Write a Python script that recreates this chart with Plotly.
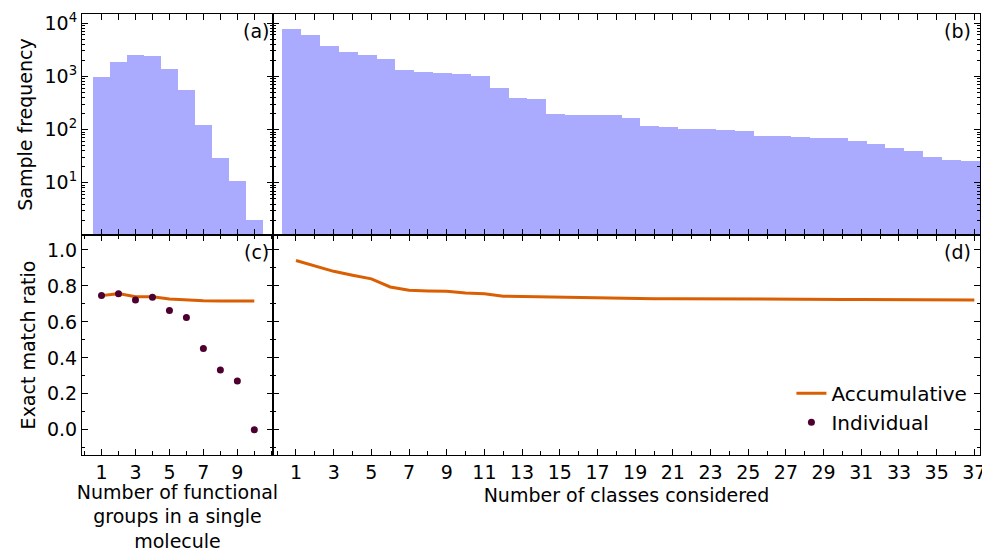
import plotly.graph_objects as go

fg_x = list(range(1, 11))
fg_freq = [950, 1840, 2500, 2450, 1400, 560, 120, 29, 11, 2]
fg_acc = [0.746, 0.757, 0.740, 0.740, 0.727, 0.720, 0.717, 0.716, 0.716, 0.716]
fg_ind = [0.746, 0.757, 0.722, 0.737, 0.663, 0.624, 0.452, 0.332, 0.272, 0.0]

cls_x = list(range(1, 38))
cls_freq = [7700, 5940, 3630, 2840, 2520, 2150, 1315, 1225, 1140, 1090, 1010, 595, 396, 368,
            195, 189, 184, 184, 166, 117, 110, 103, 103, 100, 96, 77, 75, 73, 69, 69, 60, 53,
            45, 39, 31, 27, 26]
cls_acc = [0.941, 0.911, 0.881, 0.859, 0.839, 0.794, 0.776, 0.772, 0.770, 0.761, 0.757, 0.743,
           0.741, 0.738, 0.735, 0.733, 0.731, 0.731, 0.730, 0.729, 0.729, 0.729, 0.728, 0.728,
           0.727, 0.727, 0.726, 0.726, 0.725, 0.725, 0.724, 0.724, 0.723, 0.723, 0.722, 0.722, 0.722]

BAR = "rgb(170,170,255)"
ORANGE = "#d95f02"
DOT = "#4d0030"
FONT = "DejaVu Sans"
TS = 19

log_minor = [m * 10 ** d for d in range(0, 4) for m in range(2, 10)]

fig = go.Figure()
fig.add_bar(x=fg_x, y=fg_freq, marker=dict(color=BAR, line=dict(width=0)), width=1,
            xaxis="x", yaxis="y", showlegend=False)
fig.add_bar(x=[v - 0.22 for v in cls_x], y=cls_freq, marker=dict(color=BAR, line=dict(width=0)),
            width=1, xaxis="x2", yaxis="y2", showlegend=False)
fig.add_scatter(x=fg_x, y=fg_acc, mode="lines", line=dict(color=ORANGE, width=3),
                xaxis="x3", yaxis="y3", showlegend=False)
fig.add_scatter(x=fg_x, y=fg_ind, mode="markers", marker=dict(color=DOT, size=7),
                xaxis="x3", yaxis="y3", showlegend=False)
fig.add_scatter(x=cls_x, y=cls_acc, mode="lines", line=dict(color=ORANGE, width=3),
                xaxis="x4", yaxis="y4", name="Accumulative")
fig.add_scatter(x=[None], y=[None], mode="markers", marker=dict(color=DOT, size=7),
                xaxis="x4", yaxis="y4", name="Individual")

split = 191 / 898
ysplit = 220 / 441
ax = dict(showline=True, linecolor="black", linewidth=1, mirror="ticks", ticks="inside",
          tickcolor="black", ticklen=6, zeroline=False, showgrid=False, automargin=False,
          tickfont=dict(size=TS, color="black"), ticklabeloverflow="allow")
logminor = dict(ticks="inside", ticklen=3, tickcolor="black", tickvals=log_minor)

fig.update_layout(
    width=982, height=552, margin=dict(l=82, r=2, t=14, b=97),
    plot_bgcolor="white", paper_bgcolor="white", bargap=0,
    font=dict(family=FONT, size=TS, color="black"),
    xaxis=dict(ax, domain=[0, split], range=[-0.15, 11.1], tickvals=fg_x, showticklabels=False, anchor="y"),
    yaxis=dict(ax, domain=[ysplit, 1], type="log", range=[0.02, 4.17], tickvals=[10, 100, 1000, 10000],
               ticktext=["10<sup>1</sup>", "10<sup>2</sup>", "10<sup>3</sup>", "10<sup>4</sup>"],
               minor=logminor,
               title=dict(text="Sample frequency", font=dict(size=TS), standoff=6), anchor="x"),
    xaxis2=dict(ax, domain=[split, 1], range=[-0.22, 37.3], tickvals=cls_x, showticklabels=False, anchor="y2"),
    yaxis2=dict(ax, domain=[ysplit, 1], type="log", range=[0.02, 4.17], tickvals=[10, 100, 1000, 10000],
                showticklabels=False, minor=logminor, anchor="x2"),
    xaxis3=dict(ax, domain=[0, split], range=[-0.15, 11.1], tickvals=[1, 3, 5, 7, 9],
                minor=dict(ticks="inside", ticklen=4, tickcolor="black", dtick=1, tick0=0),
                title=dict(text="Number of functional<br>groups in a single<br>molecule", font=dict(size=TS), standoff=4),
                anchor="y3"),
    yaxis3=dict(ax, domain=[0, ysplit], range=[-0.14, 1.083], tickvals=[0, 0.2, 0.4, 0.6, 0.8, 1.0],
                ticktext=["0.0", "0.2", "0.4", "0.6", "0.8", "1.0"],
                minor=dict(ticks="inside", ticklen=3, tickcolor="black", dtick=0.1, tick0=0),
                title=dict(text="Exact match ratio", font=dict(size=TS), standoff=6), anchor="x3"),
    xaxis4=dict(ax, domain=[split, 1], range=[-0.22, 37.3], tickvals=list(range(1, 38, 2)),
                minor=dict(ticks="inside", ticklen=4, tickcolor="black", dtick=1, tick0=0),
                title=dict(text="Number of classes considered", font=dict(size=TS), standoff=6), anchor="y4"),
    yaxis4=dict(ax, domain=[0, ysplit], range=[-0.14, 1.083], tickvals=[0, 0.2, 0.4, 0.6, 0.8, 1.0],
                showticklabels=False, minor=dict(ticks="inside", ticklen=3, tickcolor="black", dtick=0.1, tick0=0),
                anchor="x4"),
    legend=dict(x=0.79, y=0.03, xanchor="left", yanchor="bottom", bgcolor="rgba(0,0,0,0)",
                font=dict(size=20), tracegroupgap=0),
)
for t, xr, yr in [("(a)", "x domain", "y domain"), ("(b)", "x2 domain", "y2 domain"),
                  ("(c)", "x3 domain", "y3 domain"), ("(d)", "x4 domain", "y4 domain")]:
    fig.add_annotation(text=t, xref=xr, yref=yr, x=0.99, y=0.98, xanchor="right", yanchor="top",
                       showarrow=False, font=dict(size=TS))

fig.write_html("out.html", post_script="document.body.style.margin='0';",
               config={"displayModeBar": False})
